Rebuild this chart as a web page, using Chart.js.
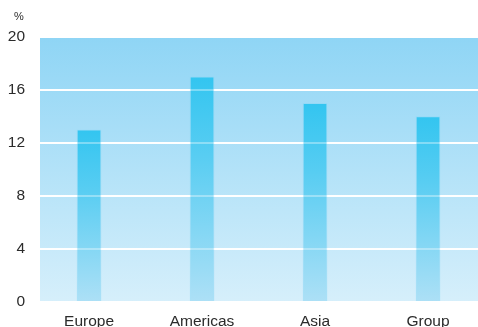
<!DOCTYPE html>
<html>
<head>
<meta charset="utf-8">
<script src="https://cdn.jsdelivr.net/npm/chart.js@4"></script>
<style>
  html, body { margin: 0; padding: 0; background: #fff; overflow: hidden; }
  #wrap { width: 478px; height: 327px; position: relative; }
</style>
</head>
<body>
<div id="wrap"><canvas id="growthChart"></canvas></div>
<script>
const regions = ['Europe', 'Americas', 'Asia', 'Group'];
const growth = [13, 17, 15, 14];
const yTicks = [0, 4, 8, 12, 16, 20];

const textColor = '#2b2b2b';
const fontFamily = '"Liberation Sans", Arial, Helvetica, sans-serif';

// plot background: soft vertical blue gradient
const areaBackground = {
  id: 'areaBackground',
  beforeDraw(chart) {
    const { ctx, chartArea: a } = chart;
    const g = ctx.createLinearGradient(0, a.top, 0, a.bottom);
    g.addColorStop(0, '#8fd5f5');
    g.addColorStop(1, '#d6effb');
    ctx.save();
    ctx.fillStyle = g;
    ctx.fillRect(a.left, a.top, a.right - a.left, a.bottom - a.top);
    ctx.restore();
  }
};

// faint grid lines over the bars, plus the unit label
const overlay = {
  id: 'overlay',
  afterDatasetsDraw(chart) {
    const { ctx, chartArea: a, scales } = chart;
    ctx.save();
    ctx.strokeStyle = 'rgba(255,255,255,0.35)';
    ctx.lineWidth = 2;
    yTicks.forEach(v => {
      const y = scales.y.getPixelForValue(v);
      ctx.beginPath();
      ctx.moveTo(a.left, y);
      ctx.lineTo(a.right, y);
      ctx.stroke();
    });
    ctx.fillStyle = textColor;
    ctx.font = '11px ' + fontFamily;
    ctx.textAlign = 'center';
    ctx.textBaseline = 'middle';
    ctx.fillText('%', 19, 17);
    ctx.restore();
  }
};

function barGradient(context) {
  const chart = context.chart;
  if (!chart.chartArea || context.type !== 'data') return '#5fcff3';
  const yScale = chart.scales.y;
  const top = yScale.getPixelForValue(context.raw.y);
  const bottom = yScale.getPixelForValue(0);
  const g = chart.ctx.createLinearGradient(0, top, 0, bottom);
  g.addColorStop(0, '#33c5f0');
  g.addColorStop(0.35, '#58cdf2');
  g.addColorStop(1, '#ade0f6');
  return g;
}

new Chart(document.getElementById('growthChart'), {
  type: 'bar',
  data: {
    datasets: [{
      data: regions.map((r, i) => ({ x: i, y: growth[i] })),
      backgroundColor: barGradient,
      borderColor: 'rgba(140,215,245,0.6)',
      borderWidth: 1,
      borderSkipped: 'bottom',
      barThickness: 24
    }]
  },
  plugins: [areaBackground, overlay],
  options: {
    responsive: true,
    maintainAspectRatio: false,
    animation: false,
    layout: { padding: { top: 37, right: 0, bottom: 0, left: 0 } },
    plugins: { legend: { display: false }, tooltip: { enabled: false } },
    scales: {
      x: {
        type: 'linear',
        offset: false,
        min: -0.434,
        max: 3.442,
        afterBuildTicks(scale) {
          scale.ticks = regions.map((r, i) => ({ value: i }));
        },
        afterFit(scale) { scale.height = 25; },
        grid: { display: false, drawTicks: false, offset: false },
        border: { display: false },
        ticks: {
          padding: 10,
          color: textColor,
          font: { family: fontFamily, size: 15.5 },
          maxRotation: 0,
          autoSkip: false,
          callback: v => regions[v]
        }
      },
      y: {
        min: 0,
        max: 20,
        afterBuildTicks(scale) {
          scale.ticks = yTicks.map(v => ({ value: v }));
        },
        afterFit(scale) { scale.width = 40; },
        grid: { color: '#ffffff', lineWidth: 2, drawTicks: false },
        border: { display: false },
        ticks: {
          padding: 15,
          color: textColor,
          font: { family: fontFamily, size: 15.5 }
        }
      }
    }
  }
});
</script>
</body>
</html>
